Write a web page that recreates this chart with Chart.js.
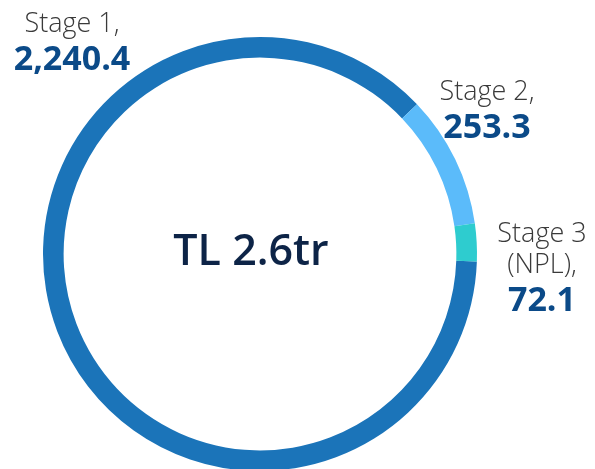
<!DOCTYPE html>
<html>
<head>
<meta charset="utf-8">
<script src="https://cdn.jsdelivr.net/npm/chart.js@4"></script>
<style>
  html, body { margin: 0; padding: 0; background: #fff; }
  #wrap { position: relative; width: 595px; height: 469px; overflow: hidden; }
  #chart { position: absolute; left: 0; top: 0; }
</style>
</head>
<body>
<div id="wrap">
  <canvas id="chart" width="595" height="520"></canvas>
</div>
<script>
// loan stages, TL billion
const stageNames = ["Stage 1,", "Stage 2,", "Stage 3\n(NPL),"];
const stageValues = [2240.4, 253.3, 72.1];
const stageColors = ["#1b74b9", "#5bbbfa", "#2ecccf"];
const centerText = "TL 2.6tr";

// callout anchor: block centre x, baseline of first line
const calloutPos = [
  { x: 72, y: 32 },
  { x: 487, y: 100 },
  { x: 542, y: 242 }
];

const fmt = (v) => v.toLocaleString("en-US", { minimumFractionDigits: 1, maximumFractionDigits: 1 });

const calloutPlugin = {
  id: "callouts",
  afterDraw(chart) {
    const ctx = chart.ctx;
    ctx.save();
    ctx.textAlign = "center";
    ctx.textBaseline = "alphabetic";

    stageNames.forEach((name, i) => {
      const p = calloutPos[i];
      const lines = name.split("\n");
      let y = p.y;
      ctx.fillStyle = "#3a3a3a";
      ctx.font = "300 27px 'Open Sans', 'Lato', sans-serif";
      lines.forEach((line, j) => {
        if (j > 0) y += 31;
        ctx.fillText(line, p.x, y);
      });
      ctx.fillStyle = "#0b4a88";
      ctx.font = "bold 34px 'Open Sans', 'Lato', sans-serif";
      ctx.fillText(fmt(stageValues[i]), p.x, y + 38);
    });

    const arc = chart.getDatasetMeta(0).data[0];
    ctx.fillStyle = "#0d2447";
    ctx.font = "600 43px 'Open Sans', 'Lato', sans-serif";
    ctx.fillText(centerText, arc.x - 9, 265);
    ctx.restore();
  }
};

new Chart(document.getElementById("chart"), {
  type: "doughnut",
  data: {
    labels: stageNames,
    datasets: [{
      data: stageValues,
      backgroundColor: stageColors,
      borderWidth: 0
    }]
  },
  options: {
    responsive: false,
    animation: false,
    cutout: "90.5%",
    rotation: 92,
    layout: { padding: { left: 43, right: 118, top: 37, bottom: 49 } },
    plugins: {
      legend: { display: false },
      tooltip: { enabled: false }
    }
  },
  plugins: [calloutPlugin]
});
</script>
</body>
</html>
